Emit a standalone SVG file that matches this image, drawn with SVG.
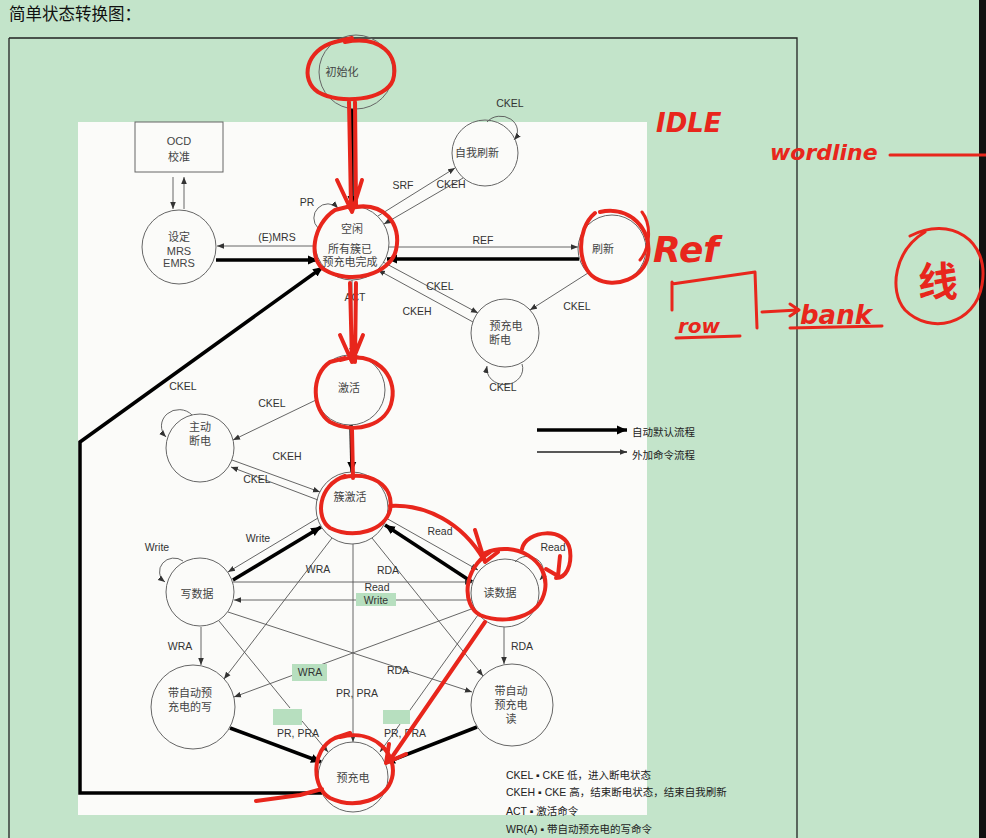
<svg xmlns="http://www.w3.org/2000/svg" width="986" height="838" viewBox="0 0 986 838">
<defs>
<marker id="at" viewBox="0 0 10 10" refX="10" refY="5" markerWidth="7" markerHeight="7" orient="auto" markerUnits="userSpaceOnUse"><path d="M0,1 L10,5 L0,9 z" fill="#333"/></marker>
<marker id="ak" viewBox="0 0 10 10" refX="10" refY="5" markerWidth="10" markerHeight="10" orient="auto" markerUnits="userSpaceOnUse"><path d="M0,0.5 L10,5 L0,9.5 z" fill="#000"/></marker>
</defs>
<style>
.thin{stroke:#555;stroke-width:0.9;fill:none}
.thick{stroke:#000;stroke-width:3.5;fill:none}
.nd{fill:none;stroke:#666;stroke-width:1}
.nt{font-family:"Liberation Sans","Noto Sans CJK SC",sans-serif;font-size:11px;fill:#444;text-anchor:middle}
.lb{font-family:"Liberation Sans",Arial,sans-serif;font-size:10.5px;fill:#333;text-anchor:middle}
.gb{fill:#b7dfbf}
.red{fill:none;stroke:#e8261c;stroke-width:4;stroke-linecap:round;stroke-linejoin:round}
.hw{font-family:"DejaVu Sans",sans-serif;font-style:italic;font-weight:bold;fill:#e8261c}
.fn{font-family:"Liberation Sans","Noto Sans CJK SC",sans-serif;font-size:10.5px;fill:#222}
</style>
<rect x="0" y="0" width="986" height="838" fill="#c3e4ca"/>
<text x="9" y="20" font-family="Noto Sans CJK SC, sans-serif" font-size="16.5" fill="#111">简单状态转换图：</text>
<path d="M9 38 H797 V838 M9 38 V838" stroke="#222" stroke-width="1.3" fill="none"/>
<rect x="979" y="0" width="7" height="838" fill="#111"/>
<rect x="78" y="122" width="569" height="693" fill="#fbfbf9"/>

<g id="connectors">
<line class="thick" x1="352" y1="109" x2="352" y2="206" marker-end="url(#ak)"/>
<line class="thin" x1="315" y1="246" x2="217" y2="246" marker-end="url(#at)"/>
<line class="thick" x1="216" y1="260" x2="318" y2="260" marker-end="url(#ak)"/>
<path class="thin" d="M 318 228 A 14 14 0 1 1 338 208" marker-end="url(#at)"/>
<line class="thin" x1="378" y1="216" x2="455" y2="168" marker-end="url(#at)"/>
<line class="thin" x1="463" y1="178" x2="384" y2="224" marker-end="url(#at)"/>
<path class="thin" d="M 487 122 A 16 14 0 1 1 514 140" marker-end="url(#at)"/>
<line class="thin" x1="389" y1="247" x2="578" y2="247" marker-end="url(#at)"/>
<line class="thick" x1="579" y1="259" x2="387" y2="259" marker-end="url(#ak)"/>
<line class="thin" x1="383" y1="262" x2="478" y2="313" marker-end="url(#at)"/>
<line class="thin" x1="473" y1="322" x2="378" y2="270" marker-end="url(#at)"/>
<line class="thin" x1="588" y1="273" x2="530" y2="310" marker-end="url(#at)"/>
<path class="thin" d="M 522 364 A 18 16 0 1 1 487 366" marker-end="url(#at)"/>
<line class="thin" x1="352" y1="280" x2="352" y2="355" marker-end="url(#at)"/>
<line class="thick" x1="351" y1="425" x2="352" y2="472" marker-end="url(#ak)"/>
<line class="thin" x1="316" y1="400" x2="233" y2="440" marker-end="url(#at)"/>
<path class="thin" d="M 192 415 A 15 14 0 1 0 166 437" marker-end="url(#at)"/>
<line class="thin" x1="232" y1="460" x2="320" y2="492" marker-end="url(#at)"/>
<line class="thin" x1="318" y1="500" x2="231" y2="467" marker-end="url(#at)"/>
<polyline class="thick" points="322,793 80,793 80,442 323,267" marker-end="url(#ak)"/>
<line class="thin" x1="318" y1="518" x2="228" y2="572" marker-end="url(#at)"/>
<line class="thick" x1="233" y1="580" x2="321" y2="527" marker-end="url(#ak)"/>
<path class="thin" d="M 183 561 A 14 13 0 1 0 165 582" marker-end="url(#at)"/>
<line class="thin" x1="386" y1="518" x2="478" y2="570" marker-end="url(#at)"/>
<line class="thick" x1="472" y1="582" x2="385" y2="525" marker-end="url(#ak)"/>
<path class="thin" d="M 515 562 A 14 13 0 1 1 540 580" marker-end="url(#at)"/>
<line class="thin" x1="233" y1="582" x2="472" y2="582" marker-end="url(#at)"/>
<line class="thin" x1="472" y1="600" x2="234" y2="600" marker-end="url(#at)"/>
<line class="thin" x1="332" y1="538" x2="224" y2="679" marker-end="url(#at)"/>
<line class="thin" x1="372" y1="538" x2="483" y2="676" marker-end="url(#at)"/>
<line class="thin" x1="353" y1="544" x2="353" y2="742" marker-end="url(#at)"/>
<line class="thin" x1="201" y1="627" x2="201" y2="665" marker-end="url(#at)"/>
<line class="thin" x1="504" y1="627" x2="504" y2="664" marker-end="url(#at)"/>
<line class="thin" x1="474" y1="608" x2="234" y2="697" marker-end="url(#at)"/>
<line class="thin" x1="228" y1="612" x2="472" y2="692" marker-end="url(#at)"/>
<line class="thin" x1="219" y1="621" x2="290" y2="708"/>
<line class="thin" x1="302" y1="721" x2="328" y2="752" marker-end="url(#at)"/>
<line class="thin" x1="478" y1="615" x2="380" y2="752" marker-end="url(#at)"/>
<line class="thick" x1="230" y1="728" x2="321" y2="762" marker-end="url(#ak)"/>
<line class="thick" x1="477" y1="727" x2="385" y2="763" marker-end="url(#ak)"/>
<line class="thin" x1="173" y1="177" x2="173" y2="209" marker-end="url(#at)"/>
<line class="thin" x1="184" y1="209" x2="184" y2="177" marker-end="url(#at)"/>
<rect class="gb" x="356" y="593" width="40" height="13"/>
<rect class="gb" x="292" y="664" width="35" height="17"/>
<rect class="gb" x="273" y="709" width="29" height="16"/>
<rect class="gb" x="383" y="710" width="27" height="14"/>
<text class="lb" x="277" y="241">(E)MRS</text>
<text class="lb" x="403" y="189">SRF</text>
<text class="lb" x="451" y="188">CKEH</text>
<text class="lb" x="483" y="244">REF</text>
<text class="lb" x="510" y="107">CKEL</text>
<text class="lb" x="307" y="206">PR</text>
<text class="lb" x="440" y="290">CKEL</text>
<text class="lb" x="417" y="315">CKEH</text>
<text class="lb" x="577" y="310">CKEL</text>
<text class="lb" x="503" y="391">CKEL</text>
<text class="lb" x="355" y="301">ACT</text>
<text class="lb" x="183" y="390">CKEL</text>
<text class="lb" x="272" y="407">CKEL</text>
<text class="lb" x="287" y="460">CKEH</text>
<text class="lb" x="257" y="483">CKEL</text>
<text class="lb" x="258" y="542">Write</text>
<text class="lb" x="157" y="551">Write</text>
<text class="lb" x="440" y="535">Read</text>
<text class="lb" x="553" y="551">Read</text>
<text class="lb" x="318" y="573">WRA</text>
<text class="lb" x="388" y="574">RDA</text>
<text class="lb" x="377" y="591">Read</text>
<text class="lb" x="376" y="604">Write</text>
<text class="lb" x="180" y="650">WRA</text>
<text class="lb" x="522" y="650">RDA</text>
<text class="lb" x="310" y="676">WRA</text>
<text class="lb" x="398" y="674">RDA</text>
<text class="lb" x="357" y="697">PR, PRA</text>
<text class="lb" x="298" y="737">PR, PRA</text>
<text class="lb" x="405" y="737">PR, PRA</text>
</g>

<g id="n-init"><circle class="nd" cx="356" cy="72" r="37"/><text class="nt" x="342" y="76">初始化</text></g>
<g id="n-ocd"><rect class="nd" x="135" y="122" width="88" height="50"/><text class="nt"><tspan x="179" y="145">OCD</tspan><tspan x="179" y="161">校准</tspan></text></g>
<g id="n-mrs"><circle class="nd" cx="179" cy="247" r="37"/><text class="nt"><tspan x="179" y="241">设定</tspan><tspan x="179" y="255">MRS</tspan><tspan x="179" y="267">EMRS</tspan></text></g>
<g id="n-idle"><circle class="nd" cx="352" cy="243" r="37"/><text class="nt"><tspan x="352" y="233">空闲</tspan><tspan x="350" y="253">所有簇已</tspan><tspan x="350" y="266">预充电完成</tspan></text></g>
<g id="n-self"><circle class="nd" cx="485" cy="153" r="33"/><text class="nt" x="477" y="157">自我刷新</text></g>
<g id="n-refresh"><circle class="nd" cx="612" cy="249" r="34"/><text class="nt" x="603" y="253">刷新</text></g>
<g id="n-ppd"><circle class="nd" cx="505" cy="333" r="34"/><text class="nt"><tspan x="506" y="330">预充电</tspan><tspan x="500" y="344">断电</tspan></text></g>
<g id="n-act"><circle class="nd" cx="350" cy="390" r="35"/><text class="nt" x="349" y="392">激活</text></g>
<g id="n-apd"><circle class="nd" cx="200" cy="448" r="34"/><text class="nt"><tspan x="200" y="431">主动</tspan><tspan x="200" y="445">断电</tspan></text></g>
<g id="n-bank"><circle class="nd" cx="352" cy="508" r="36"/><text class="nt" x="350" y="501">簇激活</text></g>
<g id="n-write"><circle class="nd" cx="200" cy="592" r="34"/><text class="nt" x="197" y="598">写数据</text></g>
<g id="n-read"><circle class="nd" cx="505" cy="593" r="34"/><text class="nt" x="500" y="597">读数据</text></g>
<g id="n-wra"><circle class="nd" cx="193" cy="707" r="42"/><text class="nt" font-size="10.5"><tspan x="190" y="697">带自动预</tspan><tspan x="190" y="711">充电的写</tspan></text></g>
<g id="n-rda"><circle class="nd" cx="512" cy="705" r="41"/><text class="nt" font-size="10.5"><tspan x="511" y="695">带自动</tspan><tspan x="511" y="709">预充电</tspan><tspan x="511" y="723">读</tspan></text></g>
<g id="n-pre"><circle class="nd" cx="353" cy="777" r="35"/><text class="nt" x="353" y="782">预充电</text></g>

<g id="legend">
<line class="thick" x1="537" y1="430" x2="627" y2="430" marker-end="url(#ak)"/>
<line class="thin" x1="537" y1="452" x2="627" y2="452" marker-end="url(#at)" style="stroke:#222;stroke-width:1.4"/>
<text class="fn" x="632" y="436">自动默认流程</text>
<text class="fn" x="632" y="459">外加命令流程</text>
<text class="fn" x="506" y="779">CKEL ▪ CKE  低，进入断电状态</text>
<text class="fn" x="506" y="796">CKEH ▪ CKE  高，结束断电状态，结束自我刷新</text>
<text class="fn" x="506" y="815">ACT ▪  激活命令</text>
<text class="fn" x="506" y="833">WR(A) ▪  带自动预充电的写命令</text>
</g>

<g id="annotations">
<path class="red" d="M345 42 C380 35 400 55 393 80 C386 100 340 105 318 92 C300 80 305 50 335 42 L352 38"/>
<path class="red" d="M349 102 L351 205 M355 102 L356 205 M337 180 L352 212 L362 180"/>
<path class="red" d="M350 208 C385 200 402 225 396 250 C390 275 350 285 325 270 C308 260 312 225 335 210 L355 205"/>
<path class="red" d="M350 283 L352 362 M356 283 L355 362 M340 335 L352 362 L363 335"/>
<path class="red" d="M340 360 C375 350 397 375 392 400 C388 425 355 435 330 422 C312 410 310 375 330 362 L345 358"/>
<path class="red" d="M352 430 L353 478"/>
<path class="red" d="M340 478 C370 470 395 485 390 510 C385 530 355 540 330 528 C315 518 318 485 345 476"/>
<path class="red" d="M390 506 C425 504 462 522 484 560 M475 530 L485 562 L498 552"/>
<path class="red" d="M485 553 C515 540 550 560 545 590 C540 618 505 625 480 615 C462 605 462 570 490 552"/>
<path class="red" d="M522 549 C526 530 566 526 570 550 C572 566 566 578 556 578 M560 556 L558 576 L546 569"/>
<path class="red" d="M485 622 L390 760 M389 744 L386 763 L406 754"/>
<path class="red" d="M340 737 C375 728 398 755 392 778 C386 800 355 810 330 798 C312 788 310 750 335 738 L350 733 M256 801 L300 795 L322 789"/>
<path class="red" d="M600 212 C630 205 652 230 648 255 C645 278 615 290 595 278 C578 268 575 230 595 213"/>
<text class="hw" x="656" y="132" font-size="26">IDLE</text>
<text class="hw" x="770" y="160" font-size="22">wordline</text>
<path class="red" d="M890 155 L986 155" style="stroke-width:3"/>
<path class="red" d="M642 212 C652 225 650 248 640 260" style="stroke-width:3"/>
<text class="hw" x="653" y="262" font-size="36">Ref</text>
<path class="red" d="M672 282 L672 310 M672 284 L755 272 L757 328" style="stroke-width:3"/>
<text class="hw" x="678" y="333" font-size="20">row</text>
<path class="red" d="M676 338 L740 336 M762 312 L798 310 M790 304 L799 310 L790 316 M790 328 L882 326" style="stroke-width:3"/>
<text class="hw" x="800" y="324" font-size="26">bank</text>
<path class="red" d="M910 236 C950 215 990 240 982 285 C975 325 930 335 905 310 C888 290 895 250 925 232" style="stroke-width:3"/>
<text class="hw" x="938" y="296" font-size="40" text-anchor="middle" style="font-family:'Noto Sans CJK SC',sans-serif;font-style:normal">线</text>
</g>
</svg>
